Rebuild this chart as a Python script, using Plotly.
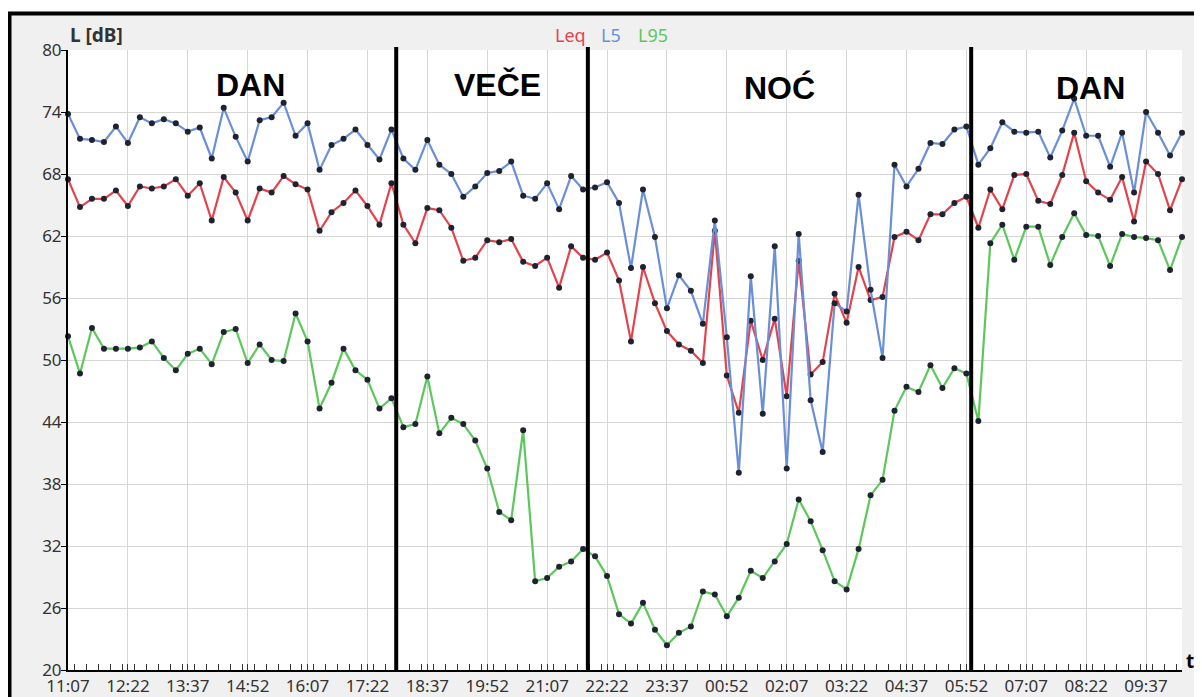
import pandas as pd
import plotly.graph_objects as go

# ---------------- data ----------------
start_time = "2023-06-01 11:07"
n_points = 94
times = pd.date_range(start_time, periods=n_points, freq="15min")

leq = [67.5, 64.8, 65.6, 65.6, 66.4, 64.9, 66.8, 66.6, 66.8, 67.5, 65.9, 67.1, 63.5, 67.7,
       66.2, 63.5, 66.6, 66.2, 67.8, 67.0, 66.5, 62.5, 64.3, 65.2, 66.4, 64.9, 63.1, 67.1,
       63.1, 61.3, 64.7, 64.5, 62.8, 59.6, 59.9, 61.6, 61.4, 61.7, 59.5, 59.1, 59.9, 57.0,
       61.0, 59.9, 59.7,
       60.4, 57.7, 51.8, 59.0, 55.5, 52.8, 51.5, 50.9, 49.7, 62.5, 48.5, 44.9, 53.8, 50.0,
       54.0, 46.5, 59.6, 48.6, 49.8, 56.4, 53.6, 59.0, 55.8, 56.1, 61.9, 62.4, 61.6, 64.1,
       64.1, 65.2, 65.8, 62.8,
       66.5, 64.6, 67.9, 68.0, 65.4, 65.1, 67.9, 72.0, 67.3, 66.2, 65.5, 67.7, 63.4, 69.2,
       68.0, 64.5, 67.5]

l5 = [73.8, 71.4, 71.3, 71.1, 72.6, 71.0, 73.5, 72.9, 73.3, 72.9, 72.1, 72.5, 69.5, 74.4,
      71.6, 69.2, 73.2, 73.5, 74.9, 71.7, 72.9, 68.4, 70.8, 71.4, 72.3, 70.8, 69.4, 72.3,
      69.5, 68.4, 71.3, 68.9, 68.0, 65.8, 66.8, 68.1, 68.3, 69.2, 65.9, 65.6, 67.1, 64.6,
      67.8, 66.5, 66.7,
      67.2, 65.2, 58.9, 66.5, 61.9, 55.0, 58.2, 56.7, 53.5, 63.5, 52.2, 39.1, 58.1, 44.8,
      61.0, 39.5, 62.2, 46.1, 41.1, 55.5, 54.7, 66.0, 56.8, 50.2, 68.9, 66.8, 68.5,
      71.0, 70.9, 72.3, 72.6, 68.9, 70.5, 73.0, 72.1, 72.0, 72.1, 69.6, 72.2, 75.3, 71.7,
      71.7, 68.7, 72.0, 66.2, 74.0, 72.0, 69.8, 72.0]

l95 = [52.3, 48.7, 53.1, 51.1, 51.1, 51.1, 51.2, 51.8, 50.2, 49.0, 50.6, 51.1, 49.6, 52.7,
       53.0, 49.7, 51.5, 50.0, 49.9, 54.5, 51.8, 45.3, 47.8, 51.1, 49.0, 48.1, 45.3, 46.3,
       43.5, 43.8, 48.4, 42.9, 44.4, 43.8, 42.2, 39.5, 35.3, 34.5, 43.2, 28.6, 28.9, 30.0,
       30.5, 31.7, 31.0,
       29.1, 25.4, 24.5, 26.5, 23.9, 22.4, 23.6, 24.2, 27.6, 27.3, 25.2, 27.0, 29.6, 28.9,
       30.5, 32.2, 36.5, 34.4, 31.6, 28.6, 27.8, 31.7, 36.9, 38.4, 45.1,
       47.4, 46.9, 49.5, 47.3, 49.2, 48.7, 44.1,
       61.3, 63.1, 59.7, 62.9, 62.9, 59.2, 61.9, 64.2, 62.1, 62.0, 59.1, 62.2, 61.9, 61.8,
       61.6, 58.7, 61.9]

series_names = ["Leq", "L5", "L95"]
series_colors = ["#e4434c", "#6a8fd8", "#5cc75c"]

period_bounds = ["2023-06-01 17:58", "2023-06-01 21:58", "2023-06-02 05:58"]
period_labels = ["DAN", "VEČE", "NOĆ", "DAN"]
period_label_x = ["2023-06-01 14:55", "2023-06-01 20:05", "2023-06-02 01:58", "2023-06-02 08:27"]
period_label_y = [76.6, 76.6, 76.3, 76.3]

# ---------------- layout geometry ----------------
OFF = 8                      # page body margin (figure origin on the page)
W, H = 1194, 689
ML, MR, MT, MB = 60, 20, 42, 27
PW, PH = W - ML - MR, H - MT - MB


def px_x(px):
    """page x pixel -> paper coordinate"""
    return (px - OFF - ML) / PW


def px_y(py):
    """page y pixel -> paper coordinate"""
    return (H - MB - (py - OFF)) / PH


TICK_FONT = dict(family="Noto Sans", size=17, color="#333333")

fig = go.Figure()
for name, vals, col in zip(series_names, [leq, l5, l95], series_colors):
    fig.add_trace(go.Scatter(
        x=times, y=vals, name=name, mode="lines+markers",
        line=dict(color=col, width=2.2),
        marker=dict(color="#1f2330", size=6),
        cliponaxis=False, showlegend=False,
    ))

shapes = [
    # outer grey panel with black frame
    dict(type="rect", xref="paper", yref="paper",
         x0=px_x(9.5), x1=px_x(1260), y0=px_y(740), y1=px_y(13.5),
         fillcolor="#f0f0f0", line=dict(color="black", width=4), layer="below"),
    # white plot area
    dict(type="rect", xref="paper", yref="paper", x0=0, x1=1, y0=0, y1=1,
         fillcolor="white", line=dict(width=0), layer="below"),
]
for b in period_bounds:
    shapes.append(dict(type="line", xref="x", yref="paper", x0=b, x1=b, y0=0, y1=1.005,
                       line=dict(color="black", width=4), layer="above"))

annotations = []
for lab, lx, ly in zip(period_labels, period_label_x, period_label_y):
    annotations.append(dict(x=lx, y=ly, xref="x", yref="y", text="<b>" + lab + "</b>",
                            showarrow=False, xanchor="center", yanchor="middle",
                            font=dict(family="Liberation Sans", size=32, color="black")))
# legend-like coloured labels
for name, col, cx in zip(series_names, series_colors, [570, 611, 653]):
    annotations.append(dict(x=px_x(cx), y=px_y(35), xref="paper", yref="paper", text=name,
                            showarrow=False, xanchor="center", yanchor="middle",
                            font=dict(family="Noto Sans", size=18, color=col)))
annotations.append(dict(x=0, y=px_y(35), xref="paper", yref="paper", text="<b>L [dB]</b>",
                        showarrow=False, xanchor="left", yanchor="middle",
                        font=dict(family="Noto Sans", size=19, color="#333333")))
annotations.append(dict(x=px_x(1190), y=px_y(661), xref="paper", yref="paper", text="<b>t</b>",
                        showarrow=False, xanchor="center", yanchor="middle",
                        font=dict(family="Noto Sans", size=19, color="black")))

fig.update_layout(
    width=W, height=H,
    margin=dict(l=ML, r=MR, t=MT, b=MB, autoexpand=False),
    paper_bgcolor="white", plot_bgcolor="white",
    shapes=shapes, annotations=annotations,
    xaxis=dict(
        type="date", range=[times[0], times[-1]],
        tick0=times[0], dtick=75 * 60 * 1000, tickformat="%H:%M",
        showgrid=True, gridcolor="#d6d6d6", gridwidth=1,
        ticks="inside", ticklen=6, tickcolor="#333333", tickwidth=1,
        minor=dict(dtick=15 * 60 * 1000, ticks="inside", ticklen=6,
                   tickcolor="#333333", showgrid=False),
        showline=True, linecolor="black", linewidth=2,
        zeroline=False, tickfont=TICK_FONT, automargin=False,
    ),
    yaxis=dict(
        range=[20, 80], tick0=20, dtick=6,
        showgrid=True, gridcolor="#d6d6d6", gridwidth=1,
        ticks="outside", ticklen=5, tickcolor="black",
        showline=True, linecolor="black", linewidth=2,
        zeroline=False, tickfont=TICK_FONT, automargin=False,
        ticklabelstandoff=-4,
    ),
)

fig.write_html(
    "out.html",
    post_script="document.documentElement.style.overflow='hidden';"
                "document.body.style.overflow='hidden';",
)
